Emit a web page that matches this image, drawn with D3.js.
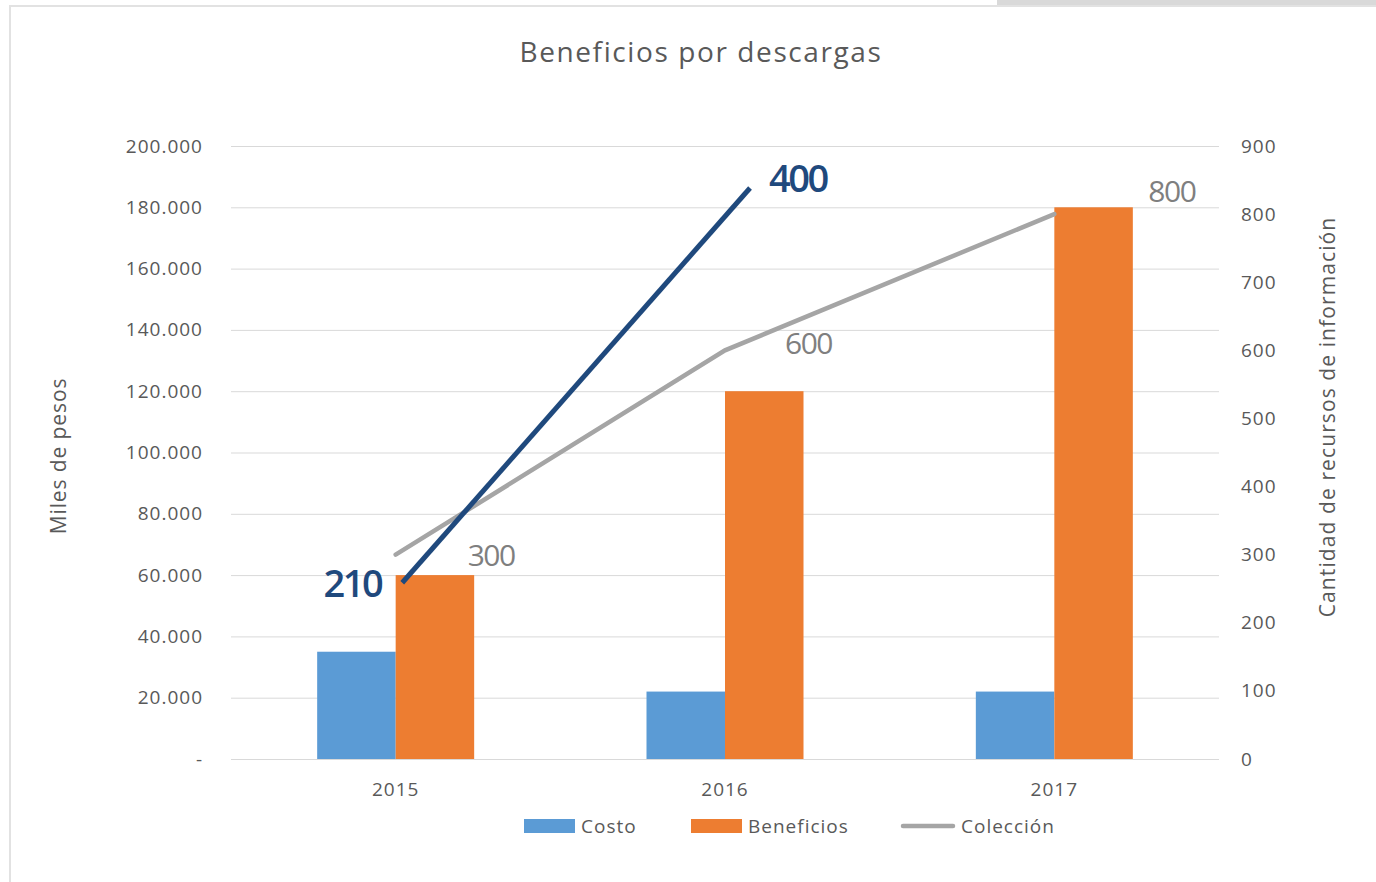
<!DOCTYPE html>
<html>
<head>
<meta charset="utf-8">
<script src="https://d3js.org/d3.v7.min.js"></script>
<style>
  body { margin: 0; background: #fff; }
  text { font-family: "Open Sans", sans-serif; }
</style>
</head>
<body>
<svg id="chart" width="1376" height="882"></svg>
<script>
// datos
var anios = ["2015", "2016", "2017"];
var costo = [35000, 22000, 22000];
var beneficios = [60000, 120000, 180000];
var coleccion = [300, 600, 800];
var ticksMiles = [0, 20000, 40000, 60000, 80000, 100000, 120000, 140000, 160000, 180000, 200000];
var ticksRecursos = [0, 100, 200, 300, 400, 500, 600, 700, 800, 900];
// linea de anotacion: valores y su ubicacion (indice de categoria, miles de pesos)
var anotacion = [210, 400];
var anotacionPos = [[0.02, 57500], [1.076, 186300]];

// ajustes de etiquetas (solo presentacion)
var nudgeColeccion = [[72, 11], [60, 4], [94, -12]];

var svg = d3.select("#chart");
var margin = {left: 231, right: 1219, top: 146, bottom: 759};

// marco
svg.append("rect").attr("x", 0).attr("y", 0).attr("width", 1376).attr("height", 882).attr("fill", "#fff");
svg.append("rect").attr("x", 9).attr("y", 5).attr("width", 1367).attr("height", 2).attr("fill", "#e2e2e2");
svg.append("rect").attr("x", 9).attr("y", 5).attr("width", 2).attr("height", 877).attr("fill", "#e2e2e2");
svg.append("rect").attr("x", 997).attr("y", 0).attr("width", 379).attr("height", 5).attr("fill", "#d9d9d9");

var x = d3.scaleBand().domain(anios).range([margin.left, margin.right]).paddingInner(0).paddingOuter(0);
var xIdx = d3.scaleLinear().domain([0, anios.length - 1])
  .range([x(anios[0]) + x.bandwidth() / 2, x(anios[anios.length - 1]) + x.bandwidth() / 2]);
var yL = d3.scaleLinear().domain([0, 200000]).range([margin.bottom, margin.top]);
var yR = d3.scaleLinear().domain([0, 900]).range([margin.bottom, margin.top]);

var grid = svg.append("g");
grid.selectAll("line").data(ticksMiles).enter().append("line")
  .attr("x1", margin.left).attr("x2", margin.right)
  .attr("y1", function(d) { return yL(d) + 0.5; }).attr("y2", function(d) { return yL(d) + 0.5; })
  .attr("stroke", "#d9d9d9").attr("stroke-width", 1);

var fmt = function(d) { return d === 0 ? "-" : d3.format(",")(d).replace(/,/g, "."); };
var yAxisL = d3.axisLeft(yL).tickValues(ticksMiles).tickFormat(fmt).tickSize(0).tickPadding(28);
var gL = svg.append("g").attr("transform", "translate(" + margin.left + ",0)").call(yAxisL);
gL.select(".domain").remove();
gL.selectAll("text").attr("font-size", 19).attr("fill", "#595959").attr("letter-spacing", 1)
  .attr("font-family", "'Open Sans', sans-serif");

var yAxisR = d3.axisRight(yR).tickValues(ticksRecursos).tickSize(0).tickPadding(22);
var gR = svg.append("g").attr("transform", "translate(" + margin.right + ",0)").call(yAxisR);
gR.select(".domain").remove();
gR.selectAll("text").attr("font-size", 19).attr("fill", "#595959").attr("letter-spacing", 1)
  .attr("font-family", "'Open Sans', sans-serif");

var xAxis = d3.axisBottom(x).tickSize(0).tickPadding(24);
var gX = svg.append("g").attr("transform", "translate(0," + margin.bottom + ")").call(xAxis);
gX.select(".domain").remove();
gX.selectAll("text").attr("font-size", 19).attr("fill", "#595959").attr("letter-spacing", 1)
  .attr("font-family", "'Open Sans', sans-serif");

// barras
var barW = 78.5;
var bars = svg.append("g");
bars.selectAll(".costo").data(costo).enter().append("rect")
  .attr("x", function(d, i) { return x(anios[i]) + x.bandwidth() / 2 - barW; })
  .attr("y", function(d) { return yL(d); })
  .attr("width", barW).attr("height", function(d) { return yL(0) - yL(d); })
  .attr("fill", "#5b9bd5");
bars.selectAll(".benef").data(beneficios).enter().append("rect")
  .attr("x", function(d, i) { return x(anios[i]) + x.bandwidth() / 2; })
  .attr("y", function(d) { return yL(d); })
  .attr("width", barW).attr("height", function(d) { return yL(0) - yL(d); })
  .attr("fill", "#ed7d31");

// linea coleccion
var line = d3.line()
  .x(function(d, i) { return x(anios[i]) + x.bandwidth() / 2; })
  .y(function(d) { return yR(d); });
svg.append("path").datum(coleccion).attr("d", line)
  .attr("fill", "none").attr("stroke", "#a5a5a5").attr("stroke-width", 4.5).attr("stroke-linecap", "round");
svg.selectAll(".lblcol").data(coleccion).enter().append("text")
  .attr("x", function(d, i) { return x(anios[i]) + x.bandwidth() / 2 + nudgeColeccion[i][0]; })
  .attr("y", function(d, i) { return yR(d) + nudgeColeccion[i][1]; })
  .attr("font-size", 30).attr("letter-spacing", -1.5).attr("fill", "#7f7f7f")
  .text(function(d) { return d; });

// anotacion azul
svg.append("line")
  .attr("x1", xIdx(anotacionPos[0][0])).attr("y1", yL(anotacionPos[0][1]))
  .attr("x2", xIdx(anotacionPos[1][0])).attr("y2", yL(anotacionPos[1][1]))
  .attr("stroke", "#1f497d").attr("stroke-width", 5);
svg.append("text")
  .attr("x", xIdx(anotacionPos[0][0]) - 21).attr("y", yL(anotacionPos[0][1]) + 14)
  .attr("text-anchor", "end").attr("font-size", 38).attr("font-weight", 600).attr("letter-spacing", -2.5)
  .attr("fill", "#1f497d").text(anotacion[0]);
svg.append("text")
  .attr("x", xIdx(anotacionPos[1][0]) + 19).attr("y", yL(anotacionPos[1][1]) + 4)
  .attr("font-size", 38).attr("font-weight", 600).attr("letter-spacing", -2.5)
  .attr("fill", "#1f497d").text(anotacion[1]);

// titulos
svg.append("text").attr("x", 701).attr("y", 62).attr("text-anchor", "middle")
  .attr("font-size", 28).attr("letter-spacing", 1.6).attr("fill", "#595959").text("Beneficios por descargas");
svg.append("text").attr("transform", "translate(66,456) rotate(-90)").attr("text-anchor", "middle")
  .attr("font-size", 21).attr("letter-spacing", 0.9).attr("fill", "#595959").text("Miles de pesos");
svg.append("text").attr("transform", "translate(1335,417) rotate(-90)").attr("text-anchor", "middle")
  .attr("font-size", 21).attr("letter-spacing", 1.1).attr("fill", "#595959").text("Cantidad de recursos de información");

// leyenda
var leyenda = [
  {nombre: "Costo", tipo: "rect", color: "#5b9bd5", x: 524},
  {nombre: "Beneficios", tipo: "rect", color: "#ed7d31", x: 691},
  {nombre: "Colección", tipo: "line", color: "#a5a5a5", x: 901}
];
var lg = svg.append("g").selectAll("g").data(leyenda).enter().append("g")
  .attr("transform", function(d) { return "translate(" + d.x + ",826)"; });
lg.each(function(d) {
  var g = d3.select(this);
  if (d.tipo === "rect") {
    g.append("rect").attr("x", 0).attr("y", -7).attr("width", 51).attr("height", 14).attr("fill", d.color);
  } else {
    g.append("line").attr("x1", 2).attr("x2", 52).attr("y1", 0).attr("y2", 0)
      .attr("stroke", d.color).attr("stroke-width", 4.5).attr("stroke-linecap", "round");
  }
  g.append("text").attr("x", d.tipo === "rect" ? 57 : 60).attr("y", 7)
    .attr("font-size", 19).attr("letter-spacing", 1).attr("fill", "#595959").text(d.nombre);
});
</script>
</body>
</html>
